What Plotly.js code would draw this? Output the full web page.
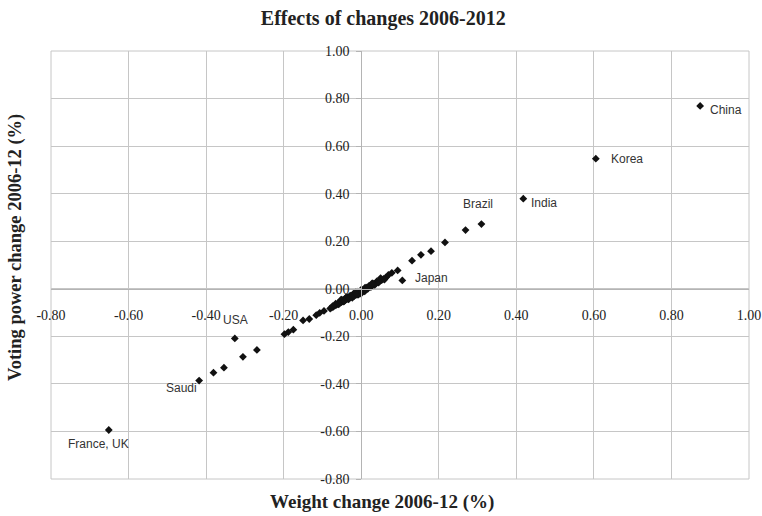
<!DOCTYPE html>
<html>
<head>
<meta charset="utf-8">
<script src="https://cdn.plot.ly/plotly-3.0.1.min.js"></script>
<style>
  html, body { margin: 0; padding: 0; background: #fff; }
  #chart { width: 762px; height: 516px; }
</style>
</head>
<body>
<div id="chart"></div>
<script>
// Weight change vs. voting power change, 2006-2012 (percentage points)
const weightChange = [
  0.874, 0.605, 0.418, 0.310, 0.269, 0.216, 0.180, 0.154, 0.131, 0.094, 0.079, 0.106,
  0.064, 0.058, 0.053, 0.048, 0.043, 0.038, 0.034, 0.030, 0.026, 0.022, 0.019, 0.016, 0.013, 0.010,
  0.008, 0.006, 0.004, 0.002, 0.000, -0.002, -0.004, -0.006, -0.008, -0.010, -0.012, -0.014,
  -0.016, -0.018, -0.020, -0.022, -0.024, -0.026, -0.028, -0.030, -0.032, -0.034, -0.036,
  -0.038, -0.040, -0.042, -0.044, -0.046, -0.048, -0.051, -0.054, -0.057, -0.060, -0.064,
  -0.068, -0.072, -0.076, -0.080,
  0.070, 0.040, 0.030, 0.020, 0.010, 0.005, 0.000, -0.010, -0.015, -0.020, -0.025, -0.030,
  -0.040, -0.050, -0.060, 0.050, -0.005, 0.015, -0.035,
  0.060, 0.045, 0.035, 0.025, 0.017, 0.009, 0.001, -0.007, -0.013, -0.019, -0.027, -0.033,
  -0.039, -0.045, -0.052, -0.058, -0.066, -0.074, -0.003, -0.011, -0.023, -0.031, -0.043, 0.028,
  -0.096, -0.107, -0.116, -0.134, -0.150, -0.175, -0.188, -0.198,
  -0.269, -0.305, -0.326, -0.354, -0.381, -0.418, -0.651
];
const votingChange = [
  0.769, 0.547, 0.379, 0.272, 0.247, 0.195, 0.158, 0.143, 0.118, 0.077, 0.067, 0.035,
  0.048, 0.042, 0.037, 0.033, 0.028, 0.024, 0.020, 0.017, 0.013, 0.010, 0.007, 0.004, 0.002, -0.001,
  -0.003, -0.005, -0.006, -0.008, -0.010, -0.012, -0.014, -0.015, -0.017, -0.019, -0.021, -0.022,
  -0.024, -0.026, -0.027, -0.029, -0.031, -0.033, -0.034, -0.036, -0.038, -0.040, -0.041,
  -0.044, -0.045, -0.047, -0.049, -0.050, -0.053, -0.056, -0.058, -0.061, -0.064, -0.068,
  -0.071, -0.076, -0.079, -0.083,
  0.058, 0.031, 0.023, 0.012, 0.005, -0.009, -0.004, -0.012, -0.024, -0.021, -0.030, -0.031,
  -0.039, -0.046, -0.060, 0.045, -0.016, 0.006, -0.035,
  0.039, 0.026, 0.016, 0.007, 0.000, -0.011, -0.018, -0.024, -0.014, -0.032, -0.029, -0.044,
  -0.036, -0.054, -0.046, -0.065, -0.063, -0.073, -0.020, -0.026, -0.038, -0.041, -0.051, 0.023,
  -0.093, -0.101, -0.111, -0.127, -0.133, -0.172, -0.182, -0.191,
  -0.257, -0.286, -0.209, -0.332, -0.353, -0.386, -0.594
];

// Named members
const labelNames = ['China', 'Korea', 'India', 'Brazil', 'Japan', 'USA', 'Saudi', 'France, UK'];
const labelX = [0.874, 0.605, 0.418, 0.310, 0.106, -0.326, -0.418, -0.651];
const labelY = [0.769, 0.547, 0.379, 0.272, 0.035, -0.209, -0.386, -0.594];

const tickVals = [-0.8, -0.6, -0.4, -0.2, 0, 0.2, 0.4, 0.6, 0.8, 1.0];
const tickText = ['-0.80', '-0.60', '-0.40', '-0.20', '0.00', '0.20', '0.40', '0.60', '0.80', '1.00'];

// label placement relative to each marker: [xanchor, yanchor, xshift, yshift]
const labelPlacement = {
  'China':      ['left',   'middle', 8, -4],
  'Korea':      ['left',   'middle', 13, 0],
  'India':      ['left',   'middle', 6, -4],
  'Brazil':     ['center', 'middle', -3, 20],
  'Japan':      ['left',   'middle', 11, 2],
  'USA':        ['center', 'middle', 1, 18],
  'Saudi':      ['center', 'middle', -18, -7],
  'France, UK': ['center', 'middle', -10, -14]
};

const serif = 'Liberation Serif, Times New Roman, serif';
const sans = 'Liberation Sans, Arial, Helvetica, sans-serif';
const gridColor = '#c6c6c6';
const zeroPos = 0.8 / 1.8;

const annotations = labelNames.map((name, i) => {
  const p = labelPlacement[name];
  return {
    x: labelX[i], y: labelY[i], xref: 'x', yref: 'y',
    text: name, showarrow: false,
    xanchor: p[0], yanchor: p[1], xshift: p[2], yshift: p[3],
    font: { family: sans, size: 12, color: '#333' }
  };
});

annotations.push({
  xref: 'paper', yref: 'paper', x: 0.474, y: -0.054,
  text: 'Weight change 2006-12 (%)', showarrow: false,
  xanchor: 'center', yanchor: 'middle',
  font: { family: serif, size: 19, color: '#222', weight: 'bold' }
});
annotations.push({
  xref: 'paper', yref: 'paper', x: -0.05, y: 0.54,
  text: 'Voting power change 2006-12 (%)', showarrow: false, textangle: -90,
  xanchor: 'center', yanchor: 'middle',
  font: { family: serif, size: 18.5, color: '#222', weight: 'bold' }
});

const trace = {
  type: 'scatter', mode: 'markers',
  x: weightChange, y: votingChange,
  marker: { symbol: 'diamond', size: 6, color: '#111', line: { width: 0 } },
  hoverinfo: 'x+y'
};

const axisCommon = {
  range: [-0.8, 1.0],
  tickmode: 'array', tickvals: tickVals, ticktext: tickText,
  showgrid: true, gridcolor: gridColor, gridwidth: 1,
  zeroline: false,
  showline: true, linecolor: '#b4b4b4', linewidth: 1,
  anchor: 'free', position: zeroPos,
  tickfont: { family: serif, size: 14, color: '#222' },
  fixedrange: true
};

const layout = {
  width: 762, height: 516,
  margin: { l: 51, r: 13, t: 51, b: 37 },
  paper_bgcolor: '#fff', plot_bgcolor: '#fff',
  showlegend: false,
  title: {
    text: 'Effects of changes 2006-2012',
    x: 0.503, xref: 'container', xanchor: 'center',
    y: 0.965, yref: 'container', yanchor: 'middle',
    font: { family: serif, size: 20, color: '#222', weight: 'bold' }
  },
  xaxis: Object.assign({}, axisCommon, {
    ticks: '', side: 'bottom', ticklabelstandoff: 13
  }),
  yaxis: Object.assign({}, axisCommon, {
    ticks: 'outside', ticklen: 5, tickcolor: '#b4b4b4', side: 'left', ticklabelstandoff: 4
  }),
  shapes: [{
    type: 'rect', xref: 'paper', yref: 'paper', x0: 0, x1: 1, y0: 0, y1: 1,
    line: { color: gridColor, width: 1 }, layer: 'below'
  }],
  annotations: annotations
};

Plotly.newPlot('chart', [trace], layout, { displayModeBar: false, staticPlot: true });
</script>
</body>
</html>
